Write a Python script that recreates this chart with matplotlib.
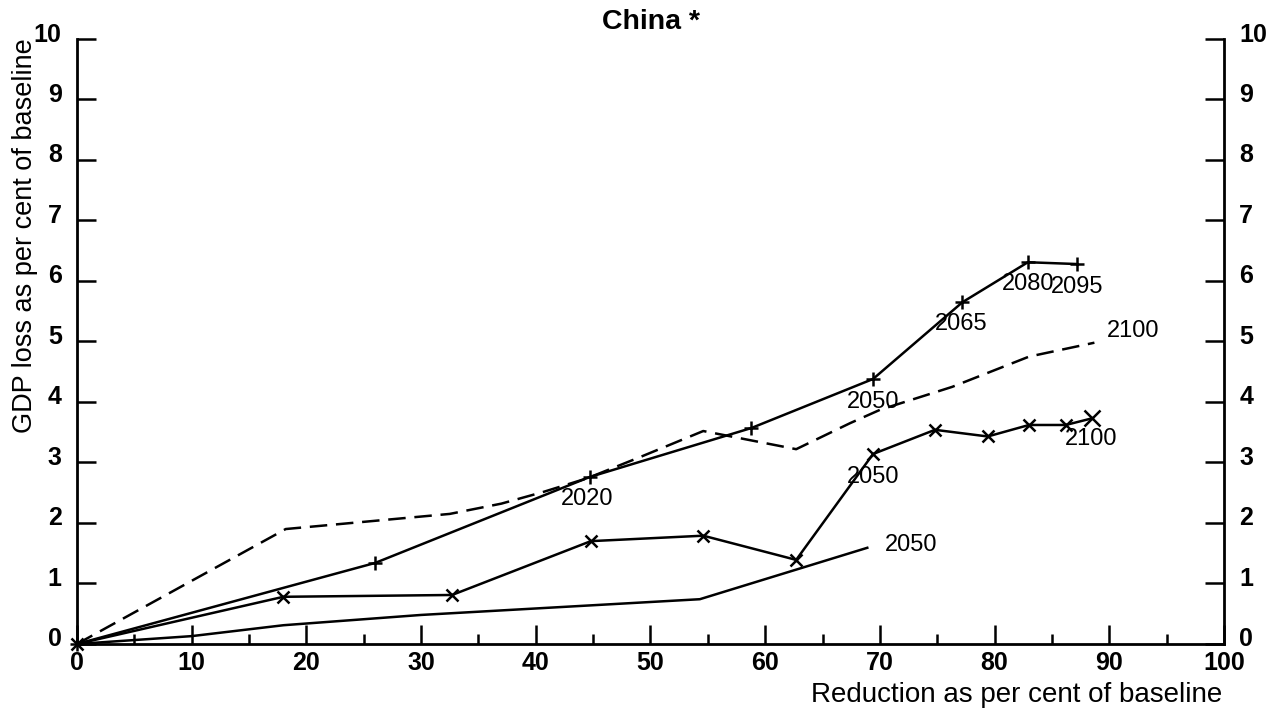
import numpy as np
import matplotlib
matplotlib.use("Agg")
import matplotlib.pyplot as plt
from matplotlib.ticker import MultipleLocator
import matplotlib.transforms as mtransforms

plt.rcParams['font.family'] = ['Liberation Sans', 'DejaVu Sans']

# GDP loss paths (x = reduction % of baseline, y = GDP loss %)
plus_x = [0, 26, 44.7, 58.8, 69.4, 77.2, 82.9, 87.2]
plus_y = [0, 1.34, 2.76, 3.57, 4.38, 5.65, 6.31, 6.28]

dash_x = [0, 18.2, 32.5, 37, 40.6, 44.5, 49.1, 54.6, 62.7, 67.4, 70, 76.3, 83, 88.7]
dash_y = [0, 1.90, 2.15, 2.32, 2.51, 2.74, 3.09, 3.52, 3.22, 3.65, 3.87, 4.25, 4.75, 4.98]

cross_x = [0, 18, 32.7, 44.8, 54.6, 62.7, 69.4, 74.8, 79.4, 83, 86.2, 88.5]
cross_y = [0, 0.78, 0.81, 1.70, 1.79, 1.39, 3.14, 3.54, 3.43, 3.62, 3.62, 3.73]

low_x = [0, 10, 18, 30, 54.3, 68.9]
low_y = [0, 0.13, 0.31, 0.48, 0.74, 1.59]

# year annotations: (text, x, y, ha)
year_labels = [
    ("2020", 44.5, 2.40, "center"),
    ("2050", 69.4, 4.00, "center"),
    ("2065", 77.1, 5.29, "center"),
    ("2080", 82.9, 5.95, "center"),
    ("2095", 87.2, 5.90, "center"),
    ("2100", 89.8, 5.17, "left"),
    ("2100", 88.4, 3.39, "center"),
    ("2050", 69.4, 2.76, "center"),
    ("2050", 70.4, 1.64, "left"),
]

fig = plt.figure(figsize=(12.7, 7.13), dpi=100)
ax = fig.add_axes([0.0606, 0.0968, 0.9032, 0.8485])

lw = 1.8
ax.plot(plus_x, plus_y, color='black', lw=lw, marker='+', ms=10, mew=1.8, clip_on=False)
ax.plot(dash_x, dash_y, color='black', lw=lw, linestyle=(0, (7, 3.5)), clip_on=False)
ax.plot(cross_x[:-1], cross_y[:-1], color='black', lw=lw, marker='x', ms=9, mew=1.8, clip_on=False)
ax.plot(cross_x[-2:], cross_y[-2:], color='black', lw=lw, clip_on=False)
ax.plot(cross_x[-1:], cross_y[-1:], color='black', marker='x', ms=12, mew=1.8, ls='none')
ax.plot(low_x, low_y, color='black', lw=lw, clip_on=False)

for txt, x, y, ha in year_labels:
    ax.text(x, y, txt, ha=ha, va='center', fontsize=17)

ax.set_xlim(0, 100)
ax.set_ylim(0, 10)
ax.xaxis.set_major_locator(MultipleLocator(10))
ax.xaxis.set_minor_locator(MultipleLocator(5))
ax.yaxis.set_major_locator(MultipleLocator(1))

ax.spines['top'].set_visible(False)
for s in ['left', 'right', 'bottom']:
    ax.spines[s].set_linewidth(2)

ax.tick_params(axis='x', which='major', direction='in', length=14, width=1.8,
               labelsize=18, pad=5)
ax.tick_params(axis='x', which='minor', direction='in', length=7, width=1.8)
ax.tick_params(axis='y', which='major', direction='in', length=14, width=1.8,
               labelsize=18, left=True, right=True, labelleft=True, labelright=True, pad=11)

for lab in ax.get_xticklabels() + ax.get_yticklabels():
    lab.set_fontweight('bold')

# y labels sit a little above their ticks
offset = mtransforms.ScaledTranslation(0, 7 / 100, fig.dpi_scale_trans)
for t in ax.yaxis.get_major_ticks():
    t.label1.set_transform(t.label1.get_transform() + offset)
    t.label2.set_transform(t.label2.get_transform() + offset)
    t.label2.set_horizontalalignment('left')
    t.label2.set_fontweight('bold')

fig.text(0.5 * (77 + 1224) / 1270, 1 - 22 / 713, "China *", ha='center', va='center',
         fontsize=20.5, fontweight='bold')
fig.text(1222 / 1270, 1 - 695 / 713, "Reduction as per cent of baseline",
         ha='right', va='center', fontsize=20)
fig.text(25 / 1270, 1 - 38 / 713, "GDP loss as per cent of baseline",
         ha='center', va='top', rotation=90, fontsize=19.5)

fig.savefig("out.png", dpi=100)
